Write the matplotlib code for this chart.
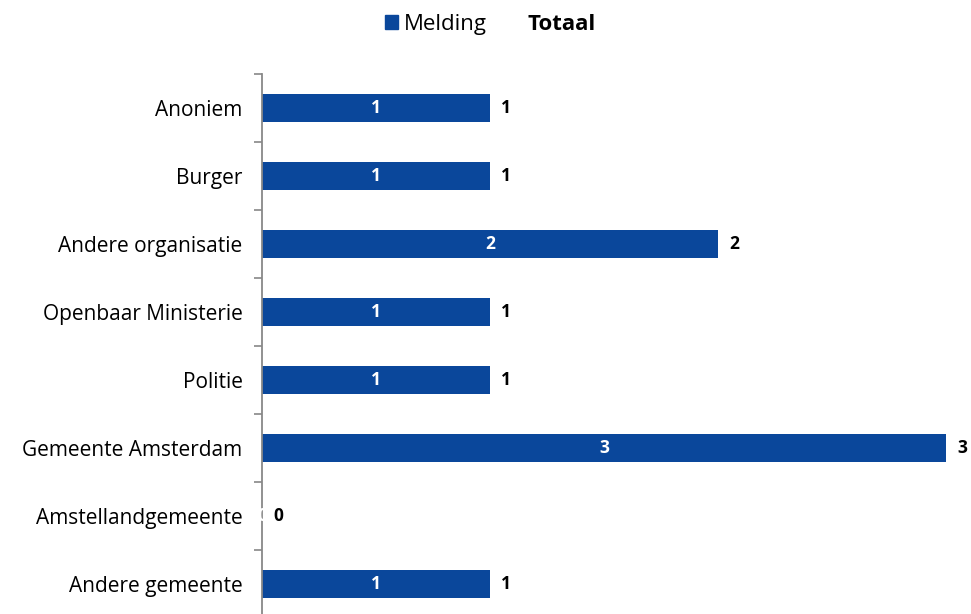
import numpy as np
import matplotlib.pyplot as plt
from matplotlib.patches import Patch

plt.rcParams['font.family'] = ['Open Sans', 'DejaVu Sans']

# data, top to bottom as in the picture
categories = ["Anoniem", "Burger", "Andere organisatie", "Openbaar Ministerie",
              "Politie", "Gemeente Amsterdam", "Amstellandgemeente", "Andere gemeente"]
melding = [1, 1, 2, 1, 1, 3, 0, 1]
totaal = [1, 1, 2, 1, 1, 3, 0, 1]

bar_color = "#0A479B"

fig = plt.figure(figsize=(9.71, 6.14), dpi=100)
ax = fig.add_axes([262 / 971, -4 / 614, 684 / 971, 544 / 614])

y = np.arange(len(categories))
ax.barh(y, melding, height=0.4, color=bar_color, zorder=2)

# labels inside bars (white) and totals next to them (black, bold)
for yi, m, t in zip(y, melding, totaal):
    ax.text(m / 2, yi, str(m), color="white", fontsize=12.5, fontweight="bold",
            ha="center", va="center", zorder=3)
    ax.annotate(str(t), (t, yi), xytext=(8, 0), textcoords="offset points",
                color="black", fontsize=12.5, fontweight="bold",
                ha="left", va="center", zorder=3, annotation_clip=False)

ax.set_xlim(0, 3)
ax.set_ylim(len(categories) - 0.5, -0.5)
ax.set_yticks(y)
ax.set_yticklabels(categories, fontsize=15)
ax.set_yticks(np.arange(len(categories) + 1) - 0.5, minor=True)
ax.tick_params(axis="y", which="major", length=0, pad=14)
ax.tick_params(axis="y", which="minor", length=6, color="#888888", width=1.2,
               direction="out")
ax.set_xticks([])

for s in ["top", "right", "bottom"]:
    ax.spines[s].set_visible(False)
ax.spines["left"].set_color("#888888")
ax.spines["left"].set_linewidth(1.3)

handles = [Patch(color=bar_color, label="Melding"),
           Patch(color="none", label="Totaal")]
leg = fig.legend(handles=handles, loc="upper center", bbox_to_anchor=(0.51, 1.01),
                 ncol=2, frameon=False, fontsize=16, handlelength=0.6,
                 handleheight=0.6, handletextpad=0.25, columnspacing=1.4)
leg.get_texts()[1].set_fontweight("bold")
leg.get_texts()[1].set_position((-10, 0))

fig.savefig("out.png", dpi=100)
